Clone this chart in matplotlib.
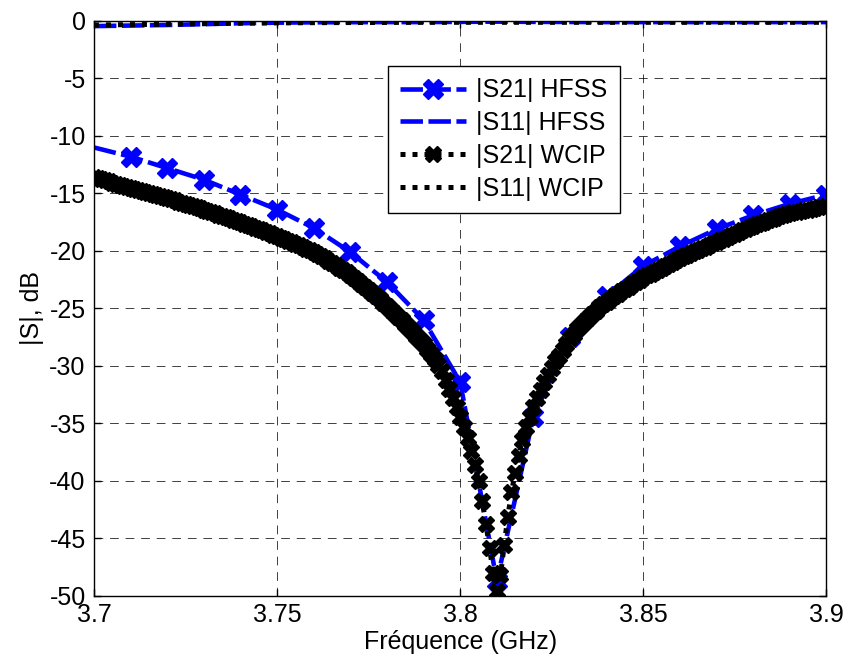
import numpy as np
import matplotlib
matplotlib.use("Agg")
import matplotlib.pyplot as plt

plt.rcParams['font.family'] = ['Liberation Sans', 'DejaVu Sans']
plt.rcParams['axes.unicode_minus'] = False

# =============================
# DATA
# =============================
# HFSS, 10 MHz step
freq_hfss = [3.70, 3.71, 3.72, 3.73, 3.74, 3.75, 3.76, 3.77, 3.78, 3.79, 3.80,
             3.81, 3.82, 3.83, 3.84, 3.85, 3.86, 3.87, 3.88, 3.89, 3.90]
s21_hfss = [-11.0, -11.8, -12.8, -13.8, -15.1, -16.4, -18.0, -20.1, -22.7, -26.0, -31.4,
            -48.7, -34.4, -27.5, -23.9, -21.3, -19.6, -18.1, -16.9, -15.9, -15.1]
s11_hfss = [-0.45, -0.40, -0.35, -0.28, -0.20, -0.15, -0.12, -0.11, -0.10, -0.10, -0.08,
            -0.06, -0.08, -0.09, -0.10, -0.10, -0.10, -0.10, -0.10, -0.10, -0.10]

# WCIP, 1 MHz step (3.700 ... 3.900)
freq_wcip = np.linspace(3.70, 3.90, 201)
s21_wcip = -np.array([
    13.60, 13.69, 13.78, 13.87, 13.96, 14.05, 14.14, 14.23, 14.32, 14.41,
    14.50, 14.59, 14.68, 14.77, 14.86, 14.95, 15.04, 15.13, 15.22, 15.31,
    15.40, 15.50, 15.60, 15.70, 15.80, 15.90, 16.00, 16.10, 16.20, 16.30,
    16.40, 16.51, 16.62, 16.73, 16.84, 16.95, 17.06, 17.17, 17.28, 17.39,
    17.50, 17.62, 17.74, 17.86, 17.98, 18.10, 18.22, 18.34, 18.46, 18.58,
    18.70, 18.83, 18.96, 19.10, 19.24, 19.38, 19.52, 19.66, 19.81, 19.95,
    20.10, 20.28, 20.46, 20.65, 20.84, 21.03, 21.23, 21.44, 21.65, 21.87,
    22.10, 22.34, 22.59, 22.84, 23.10, 23.37, 23.64, 23.92, 24.21, 24.50,
    24.80, 25.10, 25.40, 25.71, 26.03, 26.35, 26.68, 27.02, 27.37, 27.73,
    28.10, 28.50, 28.95, 29.40, 29.90, 30.40, 31.20, 32.00, 32.80, 33.60,
    34.40,
    35.30, 36.30, 37.40, 38.60, 40.00, 41.70, 43.70, 45.80, 48.00, 49.60,
    48.20, 45.60, 43.10, 41.00, 39.30, 37.80, 36.40, 35.30, 34.40, 33.60,
    32.80, 32.10, 31.40, 30.80, 30.20, 29.60, 29.10, 28.60, 28.10, 27.60,
    27.20, 26.80, 26.40, 26.10, 25.80, 25.50, 25.20, 24.90, 24.60, 24.40,
    24.20, 23.90, 23.70, 23.50, 23.30, 23.10, 22.90, 22.70, 22.50, 22.30,
    22.13, 21.97, 21.81, 21.65, 21.50, 21.32, 21.14, 20.96, 20.78, 20.60,
    20.46, 20.32, 20.18, 20.04, 19.90, 19.76, 19.62, 19.48, 19.34, 19.20,
    19.06, 18.92, 18.78, 18.64, 18.50, 18.36, 18.22, 18.08, 17.94, 17.80,
    17.68, 17.56, 17.44, 17.32, 17.20, 17.10, 17.00, 16.90, 16.80, 16.70,
    16.64, 16.58, 16.52, 16.46, 16.40, 16.34, 16.28, 16.22, 16.16, 16.10,
])
s11_wcip = [-0.35, -0.32, -0.28, -0.24, -0.20, -0.17, -0.15, -0.14, -0.13, -0.12, -0.12,
            -0.12, -0.12, -0.12, -0.12, -0.12, -0.12, -0.12, -0.12, -0.12, -0.12]

xticks = [3.7, 3.75, 3.8, 3.85, 3.9]
xticklabels = ["3.7", "3.75", "3.8", "3.85", "3.9"]
yticks = list(range(-50, 1, 5))

# =============================
# PLOT
# =============================
fig = plt.figure(figsize=(8.48, 6.65), dpi=100)
ax = fig.add_axes([0.1108, 0.1038, 0.8638, 0.8647])

blue = (0, 0, 1)
ax.plot(freq_hfss, s21_hfss, color=blue, lw=3.3, dashes=(4.9, 1.2),
        marker="X", ms=14, markevery=slice(1, None),
        mfc=blue, mec=blue, label="|S21| HFSS")
ax.plot(freq_hfss, s11_hfss, color=blue, lw=3.3, dashes=(4.9, 1.2),
        label="|S11| HFSS")
ax.plot(freq_wcip, s21_wcip, color="k", lw=3.6, dashes=(1.0, 1.4),
        marker="X", ms=12, mfc="k", mec="k", label="|S21| WCIP")
ax.plot(freq_hfss, s11_wcip, color="k", lw=3.6, dashes=(1.0, 1.4),
        label="|S11| WCIP")

ax.set_xlim(3.7, 3.9)
ax.set_ylim(-50, 0)
ax.set_xticks(xticks)
ax.set_xticklabels(xticklabels)
ax.set_yticks(yticks)
ax.set_yticklabels([str(v) for v in yticks])
ax.tick_params(direction="in", length=5, width=1, labelsize=18,
               top=True, right=True)
ax.tick_params(axis="x", pad=5)
ax.tick_params(axis="y", pad=6)
for sp in ax.spines.values():
    sp.set_linewidth(1.0)

ax.grid(True, color="k", lw=0.7, linestyle=(0, (9, 7)), alpha=0.75)
ax.set_axisbelow(True)

ax.set_xlabel("Fréquence (GHz)", fontsize=18, labelpad=2)
ax.set_ylabel("|S|, dB", fontsize=18, labelpad=4)

leg = ax.legend(loc="upper left", bbox_to_anchor=(0.401, 0.922),
                borderaxespad=0, fontsize=18, fancybox=False, framealpha=1,
                edgecolor="k", handlelength=2.65, handletextpad=0.4,
                labelspacing=0.35, borderpad=0.5, numpoints=1)
leg.get_frame().set_linewidth(1.0)

fig.savefig("out.png", dpi=100)
